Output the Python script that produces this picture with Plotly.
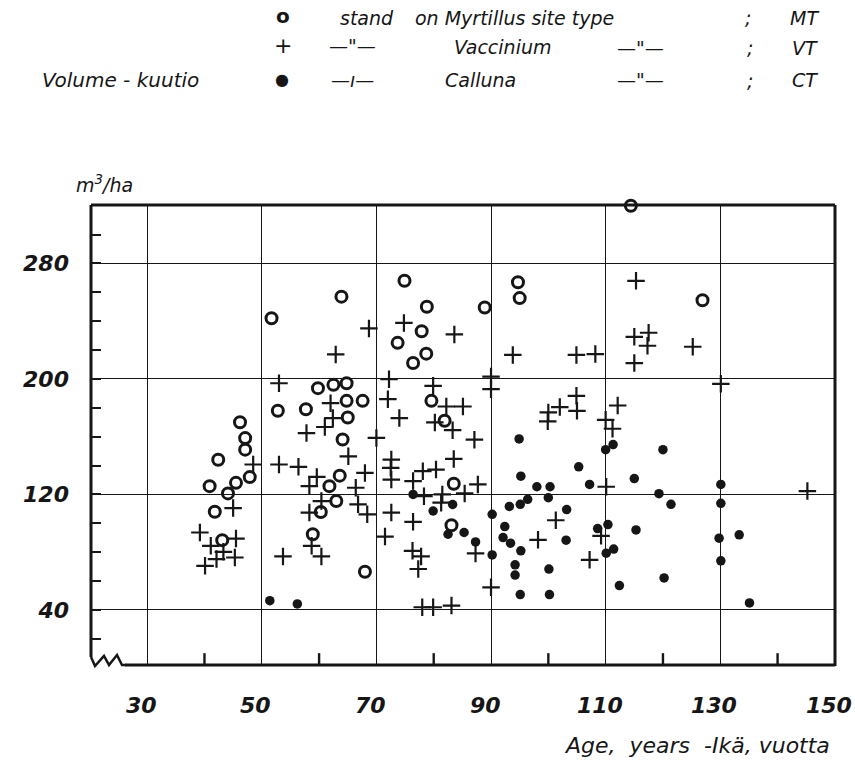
import plotly.graph_objects as go

# ---- data (age in years, volume m3/ha) ----
mt_age = [51.7, 74.9, 63.9, 78.8, 77.9, 73.7, 78.7, 76.4, 114.4, 94.7, 95.0, 88.9, 126.9,
          52.8, 46.2, 47.1, 47.1, 42.4, 47.9, 45.5, 40.9, 44.1, 41.8, 43.1, 59.8, 62.5,
          64.8, 57.7, 64.8, 67.6, 79.6, 65.0, 81.9, 64.1, 63.6, 61.8, 83.5, 63.0, 60.3,
          83.1, 58.9, 68.0]
mt_vol = [242, 268, 257, 250, 233, 225, 217.5, 211, 320, 267, 256, 249.5, 254.5,
          178, 170, 159, 151, 144, 132, 128, 125.7, 120.7, 108, 88.3, 193.6, 195.9,
          197, 179, 184.8, 184.8, 184.8, 173.3, 171, 158, 133, 125.7, 127.4, 115.4, 107.8,
          98.6, 92.4, 66.4]

vt_age = [74.8, 68.7, 83.6, 62.9, 93.8, 104.9, 108.2, 115.3, 115.0, 117.5, 117.3, 125.2,
          115.0, 53.0, 48.5, 53.0, 45.0, 39.2, 45.5, 41.1, 43.3, 45.3, 42.1, 40.1, 72.2,
          79.9, 62.0, 72.0, 82.2, 62.4, 61.0, 57.8, 74.0, 80.2, 83.3, 70.0, 65.1, 56.4,
          72.6, 72.5, 72.6, 83.5, 68.0, 59.6, 78.1, 80.4, 76.4, 58.3, 66.4, 60.4, 66.8,
          78.3, 81.5, 81.3, 68.4, 58.3, 72.6, 71.5, 76.4, 58.7, 53.7, 60.4, 76.3, 77.8,
          77.3, 78.0, 79.9, 83.1, 90.0, 90.0, 85.1, 104.9, 102.0, 100.0, 99.9, 105.0,
          112.1, 110.0, 111.2, 87.1, 87.7, 85.4, 110.1, 101.3, 87.3, 98.2, 90.0, 107.2,
          109.2, 130.1, 145.2]
vt_vol = [238.8, 235, 230.8, 217, 216.6, 216.6, 217.2, 268, 229.2, 232, 223, 222.3,
          211, 197, 140.7, 140.7, 110.5, 93.6, 89.4, 84.4, 80.2, 76.3, 75.2, 70.5, 199.8,
          195.2, 183.2, 186, 180.9, 172.9, 166.7, 162.5, 172.9, 169.9, 164.5, 159.1, 146.4, 139.1,
          144.1, 138.4, 130.3, 144.6, 134.9, 132.1, 136.1, 137.2, 129.2, 125.7, 124.6, 115.4, 113.1,
          118.8, 120, 114.3, 106.2, 107.4, 107.4, 90.8, 101, 84.4, 77, 77, 80.9, 77,
          68.3, 41.8, 41.8, 43, 201.6, 192.9, 180.9, 188.3, 180.5, 176.8, 170.6, 177.9,
          181.6, 171.7, 165.5, 157.9, 126.9, 120.7, 125.3, 102.1, 79.1, 88.5, 55.6, 74.7,
          91.3, 196.6, 122.3]

ct_age = [51.4, 56.2, 76.4, 83.3, 79.9, 82.5, 94.9, 111.3, 110.0, 105.3, 95.2, 98.0, 100.3,
          107.2, 115.0, 93.2, 95.1, 96.4, 100.0, 103.2, 90.2, 85.3, 87.3, 92.4, 92.1, 93.4,
          95.2, 103.1, 90.2, 94.2, 94.2, 100.1, 95.1, 100.2, 108.6, 110.4, 110.1, 111.4,
          112.4, 115.3, 120.0, 130.1, 119.3, 121.4, 130.1, 129.8, 133.3, 130.1, 120.2, 135.1]
ct_vol = [46.4, 44.1, 120, 113, 108.5, 92.4, 158.4, 154.5, 151, 139.1, 132.6, 125.3, 125.3,
          126.9, 131, 111.7, 113.1, 116.6, 117.7, 109.5, 106.2, 93.6, 87.1, 97.7, 90.1, 86.2,
          80.9, 88.3, 78.1, 71.2, 64.1, 68.3, 50.6, 50.6, 96.3, 99.1, 79.3, 82.1,
          56.8, 95.4, 151, 126.9, 120.5, 113.1, 113.8, 89.7, 92, 74, 62.1, 44.8]

x_ticks = [30, 50, 70, 90, 110, 130, 150]
x_minor = [40, 60, 80, 100, 120, 140]
y_ticks = [40, 120, 200, 280]
y_minor = [20, 60, 80, 100, 140, 160, 180, 220, 240, 260, 300]
X_RANGE = [20.2, 150.02]
Y_RANGE = [2.5, 320.5]

INK = "#161616"
FONT = "DejaVu Sans"

# plot area in pixels
L, R, T, B = 91, 835, 205, 664
W, H = 855, 760


def px(x):
    return (x - L) / (R - L)


def py(y):
    return (B - y) / (B - T)


fig = go.Figure()
fig.add_trace(go.Scatter(x=mt_age, y=mt_vol, mode="markers", name="MT",
                         marker=dict(symbol="circle-open", size=11, color=INK,
                                     line=dict(width=3, color=INK)), cliponaxis=False))
fig.add_trace(go.Scatter(x=vt_age, y=vt_vol, mode="markers", name="VT",
                         marker=dict(symbol="cross-thin-open", size=12.5, color=INK,
                                     line=dict(width=2.2, color=INK)), cliponaxis=False))
fig.add_trace(go.Scatter(x=ct_age, y=ct_vol, mode="markers", name="CT",
                         marker=dict(symbol="circle", size=9.5, color=INK,
                                     line=dict(width=0)), cliponaxis=False))

tickfont = dict(family=FONT, size=22, color=INK, style="italic", weight="bold")

fig.update_xaxes(range=X_RANGE, tickvals=x_ticks, showticklabels=False,
                 showgrid=True, gridcolor=INK, gridwidth=1.3, zeroline=False, showline=False,
                 ticks="", automargin=False)
fig.update_yaxes(range=Y_RANGE, tickvals=y_ticks, ticktext=[str(v) for v in y_ticks],
                 showgrid=True, gridcolor=INK, gridwidth=1.3, zeroline=False, showline=False,
                 ticks="inside", ticklen=10, tickwidth=2, tickcolor=INK,
                 tickfont=tickfont, ticklabelstandoff=21, automargin=False,
                 minor=dict(tickvals=y_minor, ticks="inside", ticklen=10, tickwidth=2,
                            tickcolor=INK, showgrid=False))

# age-axis tick labels, placed at the axis values
for v in x_ticks:
    fig.add_annotation(text=str(v), xref="x", yref="paper", x=v, y=py(705), xshift=-6,
                       xanchor="center", yanchor="middle", showarrow=False, font=tickfont)

# frame with broken-axis symbol at bottom-left
lw = 3
shapes = [
    dict(type="line", xref="paper", yref="paper", x0=px(L), x1=px(R), y0=1, y1=1,
         line=dict(color=INK, width=lw)),
    dict(type="line", xref="paper", yref="paper", x0=1, x1=1, y0=py(B + 2), y1=1,
         line=dict(color=INK, width=lw)),
    dict(type="line", xref="paper", yref="paper", x0=0, x1=0, y0=py(657), y1=1,
         line=dict(color=INK, width=lw)),
    dict(type="line", xref="paper", yref="paper", x0=px(125), x1=1, y0=py(B + 1), y1=py(B + 1),
         line=dict(color=INK, width=lw)),
]
# minor ticks on the age axis (inside, rising from the bottom frame)
for v in x_minor:
    shapes.append(dict(type="line", xref="x", yref="y", x0=v, x1=v,
                       y0=Y_RANGE[0], y1=Y_RANGE[0] + 7.5, layer="above",
                       line=dict(color=INK, width=2.4)))
zig = [(91, 657), (95, 666), (104, 656), (109, 665), (117, 655), (122, 665), (126, 665)]
path = "M " + " L ".join(f"{px(a):.5f},{py(b):.5f}" for a, b in zig)
shapes.append(dict(type="path", xref="paper", yref="paper", path=path,
                   line=dict(color=INK, width=2.5)))
fig.update_layout(shapes=shapes)

# hand-lettered legend and labels
txt = dict(family=FONT, size=19, color=INK, style="italic")


def ann(text, x, y, anchor="left", font=txt):
    fig.add_annotation(text=text, xref="paper", yref="paper", x=px(x), y=py(y),
                       xanchor=anchor, yanchor="middle", showarrow=False, font=font)


ann("o", 283, 16, "center", dict(family=FONT, size=20, color=INK, weight="bold"))
ann("stand", 338, 18)
ann("on Myrtillus site type", 413, 18)
ann(";", 748, 18, "center")
ann("MT", 788, 18)

ann("+", 283, 46, "center", dict(family=FONT, size=22, color=INK))
ann("—\"—", 352, 46, "center")
ann("Vaccinium", 452, 47)
ann("—\"—", 640, 48, "center")
ann(";", 750, 48, "center")
ann("VT", 790, 48)

ann("Volume - kuutio", 40, 80, "left", dict(family=FONT, size=20, color=INK, style="italic"))
ann("●", 282, 79, "center", dict(family=FONT, size=16, color=INK))
ann("—ı—", 352, 80, "center")
ann("Calluna", 443, 80)
ann("—\"—", 640, 80, "center")
ann(";", 750, 81, "center")
ann("CT", 790, 80)

ann("m<sup>3</sup>/ha", 74, 184, "left", dict(family=FONT, size=19, color=INK, style="italic"))
ann("Age,  years  -Ikä, vuotta", 832, 745, "right",
    dict(family=FONT, size=22, color=INK, style="italic"))

fig.update_layout(width=W, height=H, margin=dict(l=L, r=W - R, t=T, b=H - B, autoexpand=False),
                  paper_bgcolor="white", plot_bgcolor="white", showlegend=False)

fig.write_html("out.html")
